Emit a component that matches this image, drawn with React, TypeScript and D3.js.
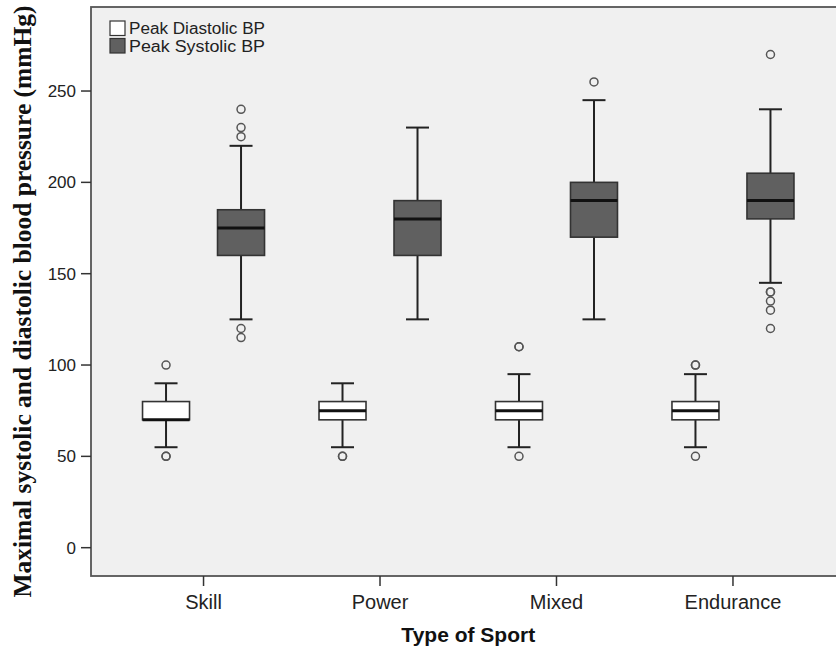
import React from 'react';
import * as d3 from 'd3';

// categories on the x axis
const sports = ['Skill', 'Power', 'Mixed', 'Endurance'];
const seriesNames = ['Peak Diastolic BP', 'Peak Systolic BP'];
const yTicks = [0, 50, 100, 150, 200, 250];

// diastolic box stats per sport: [whiskerLow, q1, median, q3, whiskerHigh]
const diastolicStats = [
  [55, 70, 70, 80, 90],
  [55, 70, 75, 80, 90],
  [55, 70, 75, 80, 95],
  [55, 70, 75, 80, 95],
];
const diastolicOutliers = [
  [100, 50, 50],
  [50, 50],
  [110, 110, 50],
  [100, 100, 50],
];

// systolic box stats per sport
const systolicStats = [
  [125, 160, 175, 185, 220],
  [125, 160, 180, 190, 230],
  [125, 170, 190, 200, 245],
  [145, 180, 190, 205, 240],
];
const systolicOutliers = [
  [240, 230, 225, 120, 115],
  [],
  [255],
  [270, 140, 140, 135, 130, 120],
];

const W = 836;
const H = 652;
const left = 91;
const top = 7;
const bottom = 576;

const fills = ['#ffffff', '#606060'];

export default function App() {
  const x = d3.scalePoint().domain(sports).range([left + 1, 844.5]).padding(0.632);
  const sub = d3.scalePoint().domain(seriesNames).range([-37.5, 37.5]);
  const y = d3.scaleLinear().domain([-15.5, 296]).range([bottom, top]);
  const boxW = 47;
  const capW = 23;

  const boxes = [diastolicStats, systolicStats].flatMap((stats, si) =>
    stats.map((s, ci) => ({
      cx: x(sports[ci]) + sub(seriesNames[si]),
      s,
      out: si === 0 ? diastolicOutliers[ci] : systolicOutliers[ci],
      fill: fills[si],
      key: si + '-' + ci,
    }))
  );

  const font = 'Liberation Sans, Arial, sans-serif';

  return (
    <svg width={W} height={H} style={{ display: 'block', position: 'absolute', left: 0, top: 0 }}>
      <rect x={0} y={0} width={W} height={H} fill="#fff" />
      <rect x={left} y={top} width={W - left + 10} height={bottom - top} fill="#f0f0f0" stroke="#555" strokeWidth={1.8} />

      {/* legend */}
      {seriesNames.map((n, i) => (
        <g key={n} transform={`translate(110, ${21 + i * 17.5})`}>
          <rect x={0} y={0} width={15} height={14.5} fill={fills[i]} stroke="#333" strokeWidth={1.2} />
          <text x={19} y={13} fontFamily={font} fontSize={16} fill="#222" textLength={136} lengthAdjust="spacingAndGlyphs">{n}</text>
        </g>
      ))}

      {/* boxes */}
      {boxes.map(b => {
        const [lo, q1, med, q3, hi] = b.s;
        return (
          <g key={b.key}>
            <line x1={b.cx} x2={b.cx} y1={y(hi)} y2={y(q3)} stroke="#222" strokeWidth={2} />
            <line x1={b.cx} x2={b.cx} y1={y(q1)} y2={y(lo)} stroke="#222" strokeWidth={2} />
            <line x1={b.cx - capW / 2} x2={b.cx + capW / 2} y1={y(hi)} y2={y(hi)} stroke="#222" strokeWidth={2} />
            <line x1={b.cx - capW / 2} x2={b.cx + capW / 2} y1={y(lo)} y2={y(lo)} stroke="#222" strokeWidth={2} />
            <rect x={b.cx - boxW / 2} y={y(q3)} width={boxW} height={y(q1) - y(q3)} fill={b.fill} stroke="#333" strokeWidth={1.6} />
            <line x1={b.cx - boxW / 2} x2={b.cx + boxW / 2} y1={y(med)} y2={y(med)} stroke="#111" strokeWidth={3} />
            {b.out.map((o, k) => (
              <circle key={k} cx={b.cx} cy={y(o)} r={4} fill="none" stroke="#555" strokeWidth={1.5} />
            ))}
          </g>
        );
      })}

      {/* y axis */}
      {yTicks.map(t => (
        <g key={t} transform={`translate(0, ${y(t)})`}>
          <line x1={81} x2={left} stroke="#333" strokeWidth={1.5} />
          <text x={76} dy="0.36em" textAnchor="end" fontFamily={font} fontSize={17} fill="#222">{t}</text>
        </g>
      ))}

      {/* x axis */}
      {sports.map(c => (
        <g key={c} transform={`translate(${x(c)}, ${bottom})`}>
          <line y1={0} y2={10} stroke="#333" strokeWidth={1.5} />
          <text y={33} textAnchor="middle" fontFamily={font} fontSize={20} fill="#222">{c}</text>
        </g>
      ))}

      <text x={(x('Skill') + x('Endurance')) / 2} y={642} textAnchor="middle" fontFamily={font} fontWeight="bold" fontSize={21} fill="#111">
        Type of Sport
      </text>
      <text
        transform="translate(31, 301.5) rotate(-90)"
        textAnchor="middle"
        fontFamily="Liberation Serif, Times New Roman, serif"
        fontWeight="bold"
        fontSize={25}
        fill="#111"
        textLength={592}
        lengthAdjust="spacingAndGlyphs"
      >
        Maximal systolic and diastolic blood pressure (mmHg)
      </text>
    </svg>
  );
}
